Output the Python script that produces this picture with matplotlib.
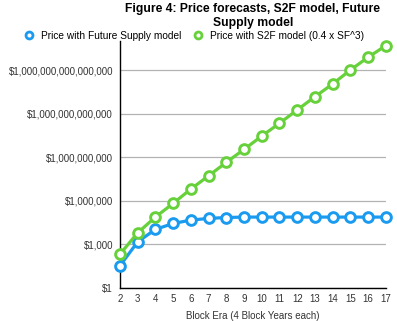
import matplotlib.pyplot as plt
from matplotlib.ticker import FixedLocator, FuncFormatter
from matplotlib.lines import Line2D

plt.rcParams['font.family'] = ['Liberation Sans', 'DejaVu Sans']

eras = list(range(2, 18))
# log10 of price
future_supply_log = [1.52, 3.17, 4.03, 4.44, 4.67, 4.79, 4.85, 4.88, 4.88, 4.88,
                     4.88, 4.88, 4.88, 4.88, 4.88, 4.88]
s2f_log = [2.32, 3.79, 4.88, 5.82, 6.81, 7.72, 8.65, 9.54, 10.46, 11.34,
           12.26, 13.17, 14.05, 15.01, 15.89, 16.69]
future_supply = [10 ** v for v in future_supply_log]
s2f = [10 ** v for v in s2f_log]

blue = '#1a9bf0'
green = '#66d13a'

fig = plt.figure(figsize=(3.97, 3.21), dpi=100)
ax = fig.add_axes([0.302, 0.103, 0.670, 0.769])

ax.plot(eras, future_supply, color=blue, lw=2.3, marker='o', ms=7,
        mfc='white', mec=blue, mew=2.1, clip_on=False, zorder=3)
ax.plot(eras, s2f, color=green, lw=2.3, marker='o', ms=7,
        mfc='white', mec=green, mew=2.1, clip_on=False, zorder=4)

ax.set_yscale('log')
ax.set_ylim(1, 10 ** 17)
ax.set_xlim(2, 17)
ax.yaxis.set_major_locator(FixedLocator([10 ** k for k in range(0, 16, 3)]))
ax.yaxis.set_minor_locator(FixedLocator([]))
ax.yaxis.set_major_formatter(FuncFormatter(lambda v, p: '${:,.0f}'.format(v)))
ax.set_xticks(eras)
ax.tick_params(axis='both', length=0, labelsize=7, colors='#333333', pad=5)
ax.tick_params(axis='x', pad=4.5)
ax.grid(axis='y', color='#b3b3b3', lw=0.9)
ax.set_axisbelow(True)
for s in ['top', 'right']:
    ax.spines[s].set_visible(False)
for s in ['left', 'bottom']:
    ax.spines[s].set_linewidth(1.0)
    ax.spines[s].set_color('black')

ax.set_xlabel('Block Era (4 Block Years each)', fontsize=7, color='#333333', labelpad=5)

fig.text(0.637, 0.99, 'Figure 4: Price forecasts, S2F model, Future\nSupply model',
         ha='center', va='top', fontsize=8.7, fontweight='bold', linespacing=1.15)

handles = [Line2D([], [], ls='none', marker='o', ms=5, mfc='white', mec=blue, mew=2.0),
           Line2D([], [], ls='none', marker='o', ms=5, mfc='white', mec=green, mew=2.0)]
fig.legend(handles, ['Price with Future Supply model', 'Price with S2F model (0.4 x SF^3)'],
           loc='center left', bbox_to_anchor=(0.065, 0.888), ncol=2, frameon=False,
           fontsize=7.3, handletextpad=0.9, columnspacing=1.3, handlelength=0.6,
           borderaxespad=0, borderpad=0)

fig.savefig('out.png', dpi=100)
